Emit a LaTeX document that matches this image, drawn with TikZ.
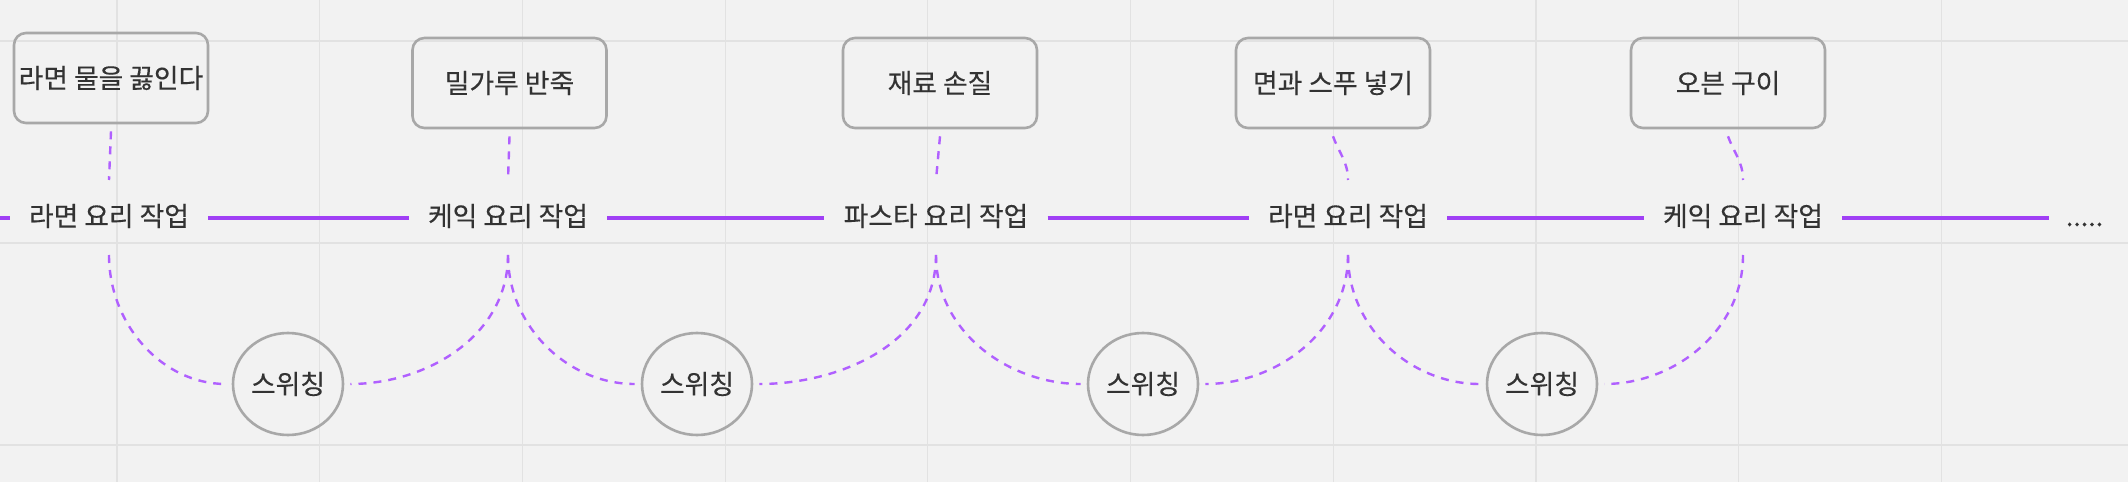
\documentclass[tikz,border=0pt]{standalone}
\usepackage{fontspec}
\setmainfont{Noto Sans CJK KR}[FakeBold=0.3]
\usetikzlibrary{shapes.geometric,calc}
\definecolor{bgc}{HTML}{F2F2F2}
\definecolor{gridc}{HTML}{E2E2E2}
\definecolor{txtc}{HTML}{333333}
\definecolor{boxc}{HTML}{A8A8A8}
\definecolor{purp}{HTML}{A040F5}
\definecolor{purpd}{HTML}{B060FF}
\tikzset{
  taskbox/.style={draw=boxc, line width=1.3pt, rounded corners=6pt, minimum width=97pt, minimum height=45pt, inner xsep=1pt, text=txtc, font=\fontsize{13.4pt}{16pt}\selectfont},
  joblabel/.style={inner xsep=9.5pt, inner ysep=0pt, text height=10pt, text depth=2pt, text=txtc, font=\fontsize{13.4pt}{16pt}\selectfont},
  switchnode/.style={draw=boxc, line width=1.3pt, ellipse, inner sep=0pt, minimum width=55pt, minimum height=51pt, text=txtc, font=\fontsize{13.4pt}{16pt}\selectfont},
  timeline/.style={draw=purp, line width=2pt},
  dashlink/.style={draw=purpd, line width=1.2pt, dash pattern=on 4pt off 3.5pt},
}
\begin{document}
\begin{tikzpicture}[x=0.5pt,y=0.5pt]
\useasboundingbox (0,0) rectangle (2128,482);
\fill[bgc] (0,0) rectangle (2128,482);
% grid
\foreach \k in {0,...,9}{
  \draw[gridc, line width=0.6pt] ({117+202.7*\k},0) -- ({117+202.7*\k},482);
}
\foreach \yy in {37,239,441}{
  \draw[gridc, line width=0.6pt] (0,\yy) -- (2128,\yy);
}
% top boxes
\node[taskbox] (b1) at (111,404) {라면 물을 끓인다};
\node[taskbox] (b2) at (509.5,399) {밀가루 반죽};
\node[taskbox] (b3) at (940,399) {재료 손질};
\node[taskbox] (b4) at (1333,399) {면과 스푸 넣기};
\node[taskbox] (b5) at (1728,399) {오븐 구이};
% job labels
\node[joblabel] (l1) at (109,264) {라면 요리 작업};
\node[joblabel] (l2) at (508,264) {케익 요리 작업};
\node[joblabel] (l3) at (936,264) {파스타 요리 작업};
\node[joblabel] (l4) at (1348,264) {라면 요리 작업};
\node[joblabel] (l5) at (1743,264) {케익 요리 작업};
\node[joblabel, inner xsep=8.5pt] (dots) at (2084.5,264) {.....};
\coordinate (lstart) at (0,264);
% switch nodes
\node[switchnode] (c1) at (288,98) {스위칭};
\node[switchnode] (c2) at (697,98) {스위칭};
\node[switchnode] (c3) at (1143,98) {스위칭};
\node[switchnode] (c4) at (1542,98) {스위칭};
% timeline
\draw[timeline] (lstart) -- (l1.west);
\draw[timeline] (l1.east) -- (l2.west);
\draw[timeline] (l2.east) -- (l3.west);
\draw[timeline] (l3.east) -- (l4.west);
\draw[timeline] (l4.east) -- (l5.west);
\draw[timeline] (l5.east) -- (dots.west);
% box to label dashed
\foreach \i in {1,2,3}{
  \draw[dashlink] ($(b\i.south)+(0,-7)$) -- ($(l\i.center)+(0,38)$);
}
\foreach \i in {4,5}{
  \draw[dashlink] ($(b\i.south)+(0,-7)$) to[out=-70,in=90] ($(l\i.center)+(0,38)$);
}
% label to switch dashed curves
\foreach \i/\j in {1/1,2/2,3/3,4/4}{
  \draw[dashlink, shorten >=3pt] ($(l\i.center)+(0,-37)$) to[out=-90,in=180] (c\j.west);
}
\foreach \i/\j in {2/1,3/2,4/3,5/4}{
  \draw[dashlink, shorten >=3pt] ($(l\i.center)+(0,-37)$) to[out=-90,in=0] (c\j.east);
}
\end{tikzpicture}
\end{document}
